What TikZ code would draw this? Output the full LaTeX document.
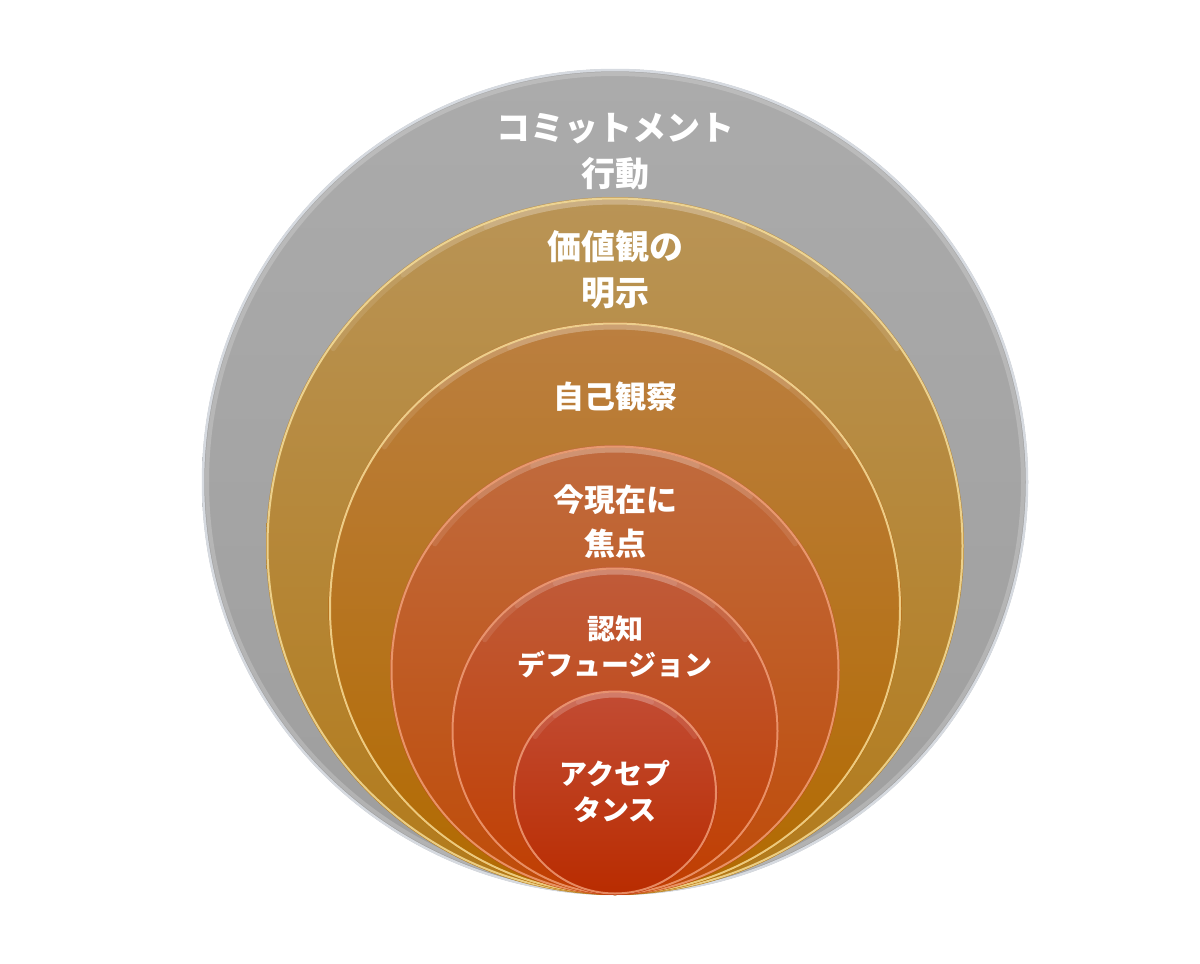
\documentclass[tikz,border=0pt]{standalone}
\usepackage{fontspec}
\newfontfamily\jp{Noto Sans CJK JP}
\definecolor{grayT}{HTML}{ABABAB}
\definecolor{grayB}{HTML}{9E9E9E}
\definecolor{goldT}{HTML}{B99456}
\definecolor{goldB}{HTML}{B27A1A}
\definecolor{ochT}{HTML}{BB7F40}
\definecolor{ochB}{HTML}{B26A00}
\definecolor{orT}{HTML}{C06B3E}
\definecolor{orB}{HTML}{BF4B08}
\definecolor{rdT}{HTML}{C05B3A}
\definecolor{rdB}{HTML}{C03E00}
\definecolor{crT}{HTML}{C24C34}
\definecolor{crB}{HTML}{B92C00}
\definecolor{rimY}{HTML}{FFE9A6}
\definecolor{rimP}{HTML}{F6A982}
\definecolor{rimG}{HTML}{D6DAE0}
\tikzset{
  lbl/.style={text=white, font=\jp\bfseries, align=center, inner sep=0pt},
  big/.style={lbl, font=\jp\bfseries\fontsize{34}{46}\selectfont},
  mid/.style={lbl, font=\jp\bfseries\fontsize{31}{44}\selectfont},
  sml/.style={lbl, font=\jp\bfseries\fontsize{28}{36}\selectfont},
  glow/.style={white, opacity=0.1, line width=5pt, line cap=round},
}
\newcommand{\ringdisc}[6]{% cx cy r top bottom rim
  \shade[top color=#4, bottom color=#5] (#1,#2) circle (#3);
  \begin{scope}
    \clip (#1,#2) circle (#3);
    \draw[#6, opacity=0.75, line width=2pt] (#1,#2) circle (#3-1.5);
    \draw[glow] ([shift={(#1,#2)}]215:#3-5) arc[start angle=215, end angle=325, radius=#3-5];
    \draw[glow] ([shift={(#1,#2)}]232:#3-5) arc[start angle=232, end angle=308, radius=#3-5];
    \draw[glow] ([shift={(#1,#2)}]248:#3-5) arc[start angle=248, end angle=292, radius=#3-5];
  \end{scope}
}
\begin{document}
\begin{tikzpicture}[x=1pt,y=-1pt]
\useasboundingbox (0,0) rectangle (1200,964);
\fill[white] (0,0) rectangle (1200,964);
% outer gray
\shade[top color=grayT, bottom color=grayB] (615,482) circle (413);
\draw[rimG, line width=2.5pt] (615,482) circle (412);
\draw[white, opacity=0.2, line width=4pt] (615,482) circle (408);
% nested discs
\ringdisc{615}{546}{349}{goldT}{goldB}{rimY}
\ringdisc{615}{608.5}{286.5}{ochT}{ochB}{rimY}
\ringdisc{615}{670}{225}{orT}{orB}{rimP}
\ringdisc{615}{731}{164}{rdT}{rdB}{rimP}
\ringdisc{615}{792.5}{102.5}{crT}{crB}{rimP}
% labels
\node[big] (t1) at (615,152) {コミットメント\\行動};
\node[big] (t2) at (615,270) {価値観の\\明示};
\node[mid] (t3) at (615,397) {自己観察};
\node[mid] (t4) at (615,522) {今現在に\\焦点};
\node[sml] (t5) at (615,647) {認知\\デフュージョン};
\node[sml] (t6) at (615,791) {アクセプ\\タンス};
\end{tikzpicture}
\end{document}
